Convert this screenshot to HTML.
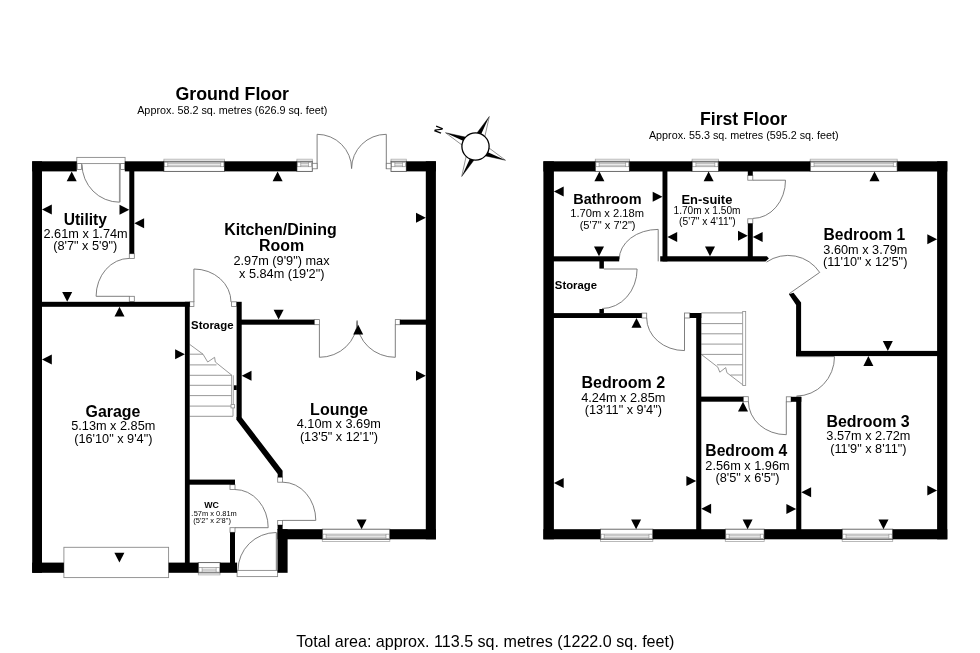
<!DOCTYPE html>
<html><head><meta charset="utf-8"><title>Floor plan</title>
<style>
html,body{margin:0;padding:0;background:#fff;}
body{width:980px;height:653px;overflow:hidden;}
svg{display:block;will-change:transform;font-family:"Liberation Sans",Arial,Helvetica,sans-serif;}
</style></head><body>
<svg width="980" height="653" viewBox="0 0 980 653">
<rect x="0" y="0" width="980" height="653" fill="#fff"/>
<defs><clipPath id="wcclip"><rect x="190.9" y="505" width="60" height="14"/></clipPath></defs>
<g fill="#000">
<text x="232.2" y="100.0" font-size="17.8" font-weight="700" text-anchor="middle">Ground Floor</text>
<text x="232.3" y="114.1" font-size="10.8" text-anchor="middle">Approx. 58.2 sq. metres (626.9 sq. feet)</text>
<text x="743.6" y="125.0" font-size="17.6" font-weight="700" text-anchor="middle">First Floor</text>
<text x="743.8" y="139.1" font-size="10.78" text-anchor="middle">Approx. 55.3 sq. metres (595.2 sq. feet)</text>
<text x="485.3" y="647.0" font-size="16.1" text-anchor="middle">Total area: approx. 113.5 sq. metres (1222.0 sq. feet)</text>
<text x="85.3" y="224.7" font-size="15.6" font-weight="700" text-anchor="middle">Utility</text>
<text x="85.6" y="238.0" font-size="12.72" text-anchor="middle">2.61m x 1.74m</text>
<text x="85.3" y="250.3" font-size="12.72" text-anchor="middle">(8'7&quot; x 5'9&quot;)</text>
<text x="280.5" y="235.1" font-size="15.95" font-weight="700" text-anchor="middle">Kitchen/Dining</text>
<text x="281.5" y="251.0" font-size="15.95" font-weight="700" text-anchor="middle">Room</text>
<text x="281.5" y="264.7" font-size="12.72" text-anchor="middle">2.97m (9'9&quot;) max</text>
<text x="281.7" y="277.6" font-size="12.72" text-anchor="middle">x 5.84m (19'2&quot;)</text>
<text x="212.3" y="329.3" font-size="11.4" font-weight="700" text-anchor="middle">Storage</text>
<text x="113.0" y="416.7" font-size="15.9" font-weight="700" text-anchor="middle">Garage</text>
<text x="113.3" y="430.0" font-size="12.72" text-anchor="middle">5.13m x 2.85m</text>
<text x="113.3" y="442.6" font-size="12.72" text-anchor="middle">(16'10&quot; x 9'4&quot;)</text>
<text x="339.0" y="414.9" font-size="16" font-weight="700" text-anchor="middle">Lounge</text>
<text x="338.8" y="428.2" font-size="12.72" text-anchor="middle">4.10m x 3.69m</text>
<text x="339.0" y="440.6" font-size="12.72" text-anchor="middle">(13'5&quot; x 12'1&quot;)</text>
<text x="211.5" y="507.8" font-size="8.8" font-weight="700" text-anchor="middle">WC</text>
<text x="212.1" y="515.7" font-size="7.46" text-anchor="middle" clip-path="url(#wcclip)">1.57m x 0.81m</text>
<text x="212.1" y="523.3" font-size="7.46" text-anchor="middle">(5'2&quot; x 2'8&quot;)</text>
<text x="607.4" y="204.3" font-size="14.45" font-weight="700" text-anchor="middle">Bathroom</text>
<text x="607.1" y="216.6" font-size="11.15" text-anchor="middle">1.70m x 2.18m</text>
<text x="607.6" y="229.0" font-size="11.1" text-anchor="middle">(5'7&quot; x 7'2&quot;)</text>
<text x="706.9" y="203.7" font-size="12.9" font-weight="700" text-anchor="middle">En-suite</text>
<text x="707.0" y="213.7" font-size="10.15" text-anchor="middle">1.70m x 1.50m</text>
<text x="707.4" y="224.5" font-size="10.25" text-anchor="middle">(5'7&quot; x 4'11&quot;)</text>
<text x="575.9" y="289.3" font-size="11.3" font-weight="700" text-anchor="middle">Storage</text>
<text x="864.4" y="240.4" font-size="15.65" font-weight="700" text-anchor="middle">Bedroom 1</text>
<text x="865.4" y="253.5" font-size="12.72" text-anchor="middle">3.60m x 3.79m</text>
<text x="865.2" y="266.3" font-size="12.72" text-anchor="middle">(11'10&quot; x 12'5&quot;)</text>
<text x="623.3" y="388.4" font-size="16" font-weight="700" text-anchor="middle">Bedroom 2</text>
<text x="623.3" y="401.6" font-size="12.72" text-anchor="middle">4.24m x 2.85m</text>
<text x="623.3" y="413.9" font-size="12.72" text-anchor="middle">(13'11&quot; x 9'4&quot;)</text>
<text x="868.0" y="426.5" font-size="15.95" font-weight="700" text-anchor="middle">Bedroom 3</text>
<text x="868.4" y="440.0" font-size="12.72" text-anchor="middle">3.57m x 2.72m</text>
<text x="868.4" y="452.7" font-size="12.72" text-anchor="middle">(11'9&quot; x 8'11&quot;)</text>
<text x="746.3" y="455.9" font-size="15.7" font-weight="700" text-anchor="middle">Bedroom 4</text>
<text x="747.5" y="469.8" font-size="12.75" text-anchor="middle">2.56m x 1.96m</text>
<text x="747.5" y="482.0" font-size="12.72" text-anchor="middle">(8'5&quot; x 6'5&quot;)</text>
</g>
<path d="M189.7 344.4L203 354.2L207.7 362L214.6 357.3L215.3 362L231.9 375.3" fill="none" stroke="#8c8c8c" stroke-width="0.9"/>
<path d="M189.7 354.2H203M189.7 364.9H216.5M189.7 375.3H232M189.7 385.3H231.5M189.7 395.6H231.5M189.7 406.1H231M189.7 416.3H233V407.9" fill="none" stroke="#8c8c8c" stroke-width="0.9"/>
<path d="M231.6 375.3V404.6M233.3 375.3V404.6" fill="none" stroke="#8c8c8c" stroke-width="0.8"/>
<rect x="231.0" y="404.6" width="3.6" height="3.3" fill="#fff" stroke="#8c8c8c" stroke-width="0.8"/>
<path d="M701.3 312.9H745.7M701.3 323.6H742.7M701.3 333.8H742.7M701.3 344.1H742.7M701.3 354.4H742.7M717 364.8H742.7M730.5 375H742.7" fill="none" stroke="#8c8c8c" stroke-width="0.9"/>
<path d="M701.3 354.4L717.8 367.1L719.8 372.2L725.7 367.6L726.9 372.7L743.7 385.5" fill="none" stroke="#8c8c8c" stroke-width="0.9"/>
<rect x="742.7" y="311.4" width="3.0" height="74.1" fill="#fff" stroke="#8c8c8c" stroke-width="0.8"/>
<rect x="76.8" y="157.4" width="48.3" height="6.2" fill="#fff" stroke="#8a8a8a" stroke-width="0.9"/>
<path d="M120 163.6V202.2M82 164.3A37.6 38 0 0 0 119.6 202.2" fill="none" stroke="#707070" stroke-width="0.9"/>
<path d="M119.4 163.6V202.2" fill="none" stroke="#707070" stroke-width="0.6"/>
<path d="M96.1 296.3H129.3M96.1 296.3A33.2 37.9 0 0 1 129.3 258.4" fill="none" stroke="#707070" stroke-width="0.9"/>
<path d="M193.9 302V269M193.9 269A37.1 33 0 0 1 231 302" fill="none" stroke="#707070" stroke-width="0.9"/>
<path d="M317.1 169V134.3A34.5 34.3 0 0 1 351.6 168.6M386.3 169V134.3A34.7 34.3 0 0 0 351.6 168.6" fill="none" stroke="#707070" stroke-width="0.9"/>
<path d="M319.4 324.7V357.3A37.7 36 0 0 0 357.1 321.3M395.3 324.7V357.3A38.2 36 0 0 1 357.1 321.3M357.1 320.2V326" fill="none" stroke="#707070" stroke-width="0.9"/>
<path d="M282.7 520.4H315.8M315.8 520.4A33.1 38.2 0 0 0 282.7 482.2" fill="none" stroke="#707070" stroke-width="0.9"/>
<path d="M234.9 527.7H268.2M268.2 527.7A33.3 38.2 0 0 0 234.9 489.5" fill="none" stroke="#707070" stroke-width="0.9"/>
<rect x="237.1" y="570.4" width="40.5" height="6.2" fill="#fff" stroke="#8a8a8a" stroke-width="0.9"/>
<path d="M276.3 570.4V532.5M276.3 532.5A38.3 37.9 0 0 0 238 570.4" fill="none" stroke="#707070" stroke-width="0.9"/>
<path d="M277.2 570.4V532.5" fill="none" stroke="#707070" stroke-width="0.6"/>
<rect x="63.9" y="547.3" width="104.7" height="30.3" fill="#fff" stroke="#8a8a8a" stroke-width="0.9"/>
<path d="M658.2 261.4V229.4M658.2 229.4A39 30 0 0 0 619.2 259.4" fill="none" stroke="#707070" stroke-width="0.9"/>
<path d="M603.9 269H637.1M637.1 269A35 39.5 0 0 1 602.1 308.5" fill="none" stroke="#707070" stroke-width="0.9"/>
<path d="M684.5 313.5V350.6M684.5 350.6A37.8 32.6 0 0 1 646.7 318" fill="none" stroke="#707070" stroke-width="0.9"/>
<path d="M752.9 180.2H785.5M785.5 180.2A32.6 38.2 0 0 1 752.9 218.4" fill="none" stroke="#707070" stroke-width="0.9"/>
<path d="M789 293.8L819.7 272.4A38 38 0 0 0 766.5 262.1" fill="none" stroke="#707070" stroke-width="0.9"/>
<path d="M796.2 356.6H834.5M834.5 356.6A38 39.4 0 0 1 796.5 396" fill="none" stroke="#707070" stroke-width="0.9"/>
<path d="M786.3 401.5V434.7M786.3 434.7A37.9 33.3 0 0 1 748.4 401.4" fill="none" stroke="#707070" stroke-width="0.9"/>
<rect x="163.9" y="159.2" width="60.6" height="2.1" fill="#fff" stroke="#a8a8a8" stroke-width="0.8"/>
<rect x="163.9" y="161.3" width="60.6" height="10.1" fill="#fff" stroke="#5a5a5a" stroke-width="0.9"/>
<rect x="164.5" y="162.2" width="59.4" height="4.6" fill="#fff" stroke="#606060" stroke-width="0.5"/>
<path d="M167.7 162.2V166.8M220.7 162.2V166.8M167.7 163.6H220.7M167.7 165.3H220.7" fill="none" stroke="#6a6a6a" stroke-width="0.45"/>
<rect x="296.9" y="159.2" width="15.4" height="2.1" fill="#fff" stroke="#a8a8a8" stroke-width="0.8"/>
<rect x="296.9" y="161.3" width="15.4" height="10.1" fill="#fff" stroke="#5a5a5a" stroke-width="0.9"/>
<rect x="297.5" y="162.2" width="14.2" height="4.6" fill="#fff" stroke="#606060" stroke-width="0.5"/>
<path d="M300.7 162.2V166.8M308.5 162.2V166.8M300.7 163.6H308.5M300.7 165.3H308.5" fill="none" stroke="#6a6a6a" stroke-width="0.45"/>
<rect x="391.0" y="159.2" width="15.3" height="2.1" fill="#fff" stroke="#a8a8a8" stroke-width="0.8"/>
<rect x="391.0" y="161.3" width="15.3" height="10.1" fill="#fff" stroke="#5a5a5a" stroke-width="0.9"/>
<rect x="391.6" y="162.2" width="14.1" height="4.6" fill="#fff" stroke="#606060" stroke-width="0.5"/>
<path d="M394.8 162.2V166.8M402.5 162.2V166.8M394.8 163.6H402.5M394.8 165.3H402.5" fill="none" stroke="#6a6a6a" stroke-width="0.45"/>
<rect x="322.3" y="539.3" width="67.5" height="2.1" fill="#fff" stroke="#a8a8a8" stroke-width="0.8"/>
<rect x="322.3" y="529.2" width="67.5" height="10.1" fill="#fff" stroke="#5a5a5a" stroke-width="0.9"/>
<rect x="322.9" y="534.1" width="66.3" height="4.5" fill="#fff" stroke="#606060" stroke-width="0.5"/>
<path d="M326.1 534.1V538.6M386.0 534.1V538.6M326.1 535.7H386.0M326.1 537.3H386.0" fill="none" stroke="#6a6a6a" stroke-width="0.45"/>
<rect x="198.3" y="572.8" width="21.7" height="2.1" fill="#fff" stroke="#a8a8a8" stroke-width="0.8"/>
<rect x="198.3" y="562.6" width="21.7" height="10.2" fill="#fff" stroke="#5a5a5a" stroke-width="0.9"/>
<rect x="198.9" y="567.6" width="20.5" height="4.5" fill="#fff" stroke="#606060" stroke-width="0.5"/>
<path d="M202.1 567.6V572.1M216.2 567.6V572.1M202.1 569.2H216.2M202.1 570.8H216.2" fill="none" stroke="#6a6a6a" stroke-width="0.45"/>
<rect x="595.3" y="159.2" width="34.1" height="2.1" fill="#fff" stroke="#a8a8a8" stroke-width="0.8"/>
<rect x="595.3" y="161.3" width="34.1" height="10.1" fill="#fff" stroke="#5a5a5a" stroke-width="0.9"/>
<rect x="595.9" y="162.2" width="32.9" height="4.6" fill="#fff" stroke="#606060" stroke-width="0.5"/>
<path d="M599.1 162.2V166.8M625.6 162.2V166.8M599.1 163.6H625.6M599.1 165.3H625.6" fill="none" stroke="#6a6a6a" stroke-width="0.45"/>
<rect x="692.1" y="159.2" width="26.5" height="2.1" fill="#fff" stroke="#a8a8a8" stroke-width="0.8"/>
<rect x="692.1" y="161.3" width="26.5" height="10.1" fill="#fff" stroke="#5a5a5a" stroke-width="0.9"/>
<rect x="692.7" y="162.2" width="25.3" height="4.6" fill="#fff" stroke="#606060" stroke-width="0.5"/>
<path d="M695.9 162.2V166.8M714.8 162.2V166.8M695.9 163.6H714.8M695.9 165.3H714.8" fill="none" stroke="#6a6a6a" stroke-width="0.45"/>
<rect x="810.2" y="159.2" width="87.0" height="2.1" fill="#fff" stroke="#a8a8a8" stroke-width="0.8"/>
<rect x="810.2" y="161.3" width="87.0" height="10.1" fill="#fff" stroke="#5a5a5a" stroke-width="0.9"/>
<rect x="810.8" y="162.2" width="85.8" height="4.6" fill="#fff" stroke="#606060" stroke-width="0.5"/>
<path d="M814.0 162.2V166.8M893.4 162.2V166.8M814.0 163.6H893.4M814.0 165.3H893.4" fill="none" stroke="#6a6a6a" stroke-width="0.45"/>
<rect x="600.4" y="539.3" width="52.4" height="2.1" fill="#fff" stroke="#a8a8a8" stroke-width="0.8"/>
<rect x="600.4" y="529.2" width="52.4" height="10.1" fill="#fff" stroke="#5a5a5a" stroke-width="0.9"/>
<rect x="601.0" y="534.1" width="51.2" height="4.5" fill="#fff" stroke="#606060" stroke-width="0.5"/>
<path d="M604.2 534.1V538.6M649.0 534.1V538.6M604.2 535.7H649.0M604.2 537.3H649.0" fill="none" stroke="#6a6a6a" stroke-width="0.45"/>
<rect x="725.3" y="539.3" width="38.9" height="2.1" fill="#fff" stroke="#a8a8a8" stroke-width="0.8"/>
<rect x="725.3" y="529.2" width="38.9" height="10.1" fill="#fff" stroke="#5a5a5a" stroke-width="0.9"/>
<rect x="725.9" y="534.1" width="37.7" height="4.5" fill="#fff" stroke="#606060" stroke-width="0.5"/>
<path d="M729.1 534.1V538.6M760.4 534.1V538.6M729.1 535.7H760.4M729.1 537.3H760.4" fill="none" stroke="#6a6a6a" stroke-width="0.45"/>
<rect x="842.2" y="539.3" width="50.5" height="2.1" fill="#fff" stroke="#a8a8a8" stroke-width="0.8"/>
<rect x="842.2" y="529.2" width="50.5" height="10.1" fill="#fff" stroke="#5a5a5a" stroke-width="0.9"/>
<rect x="842.8" y="534.1" width="49.3" height="4.5" fill="#fff" stroke="#606060" stroke-width="0.5"/>
<path d="M846.0 534.1V538.6M888.9 534.1V538.6M846.0 535.7H888.9M846.0 537.3H888.9" fill="none" stroke="#6a6a6a" stroke-width="0.45"/>
<rect x="77.2" y="163.6" width="4.2" height="5.9" fill="#fff" stroke="#777" stroke-width="0.8"/>
<rect x="120.6" y="163.6" width="4.2" height="5.9" fill="#fff" stroke="#777" stroke-width="0.8"/>
<rect x="129.3" y="253.7" width="5.0" height="4.7" fill="#fff" stroke="#777" stroke-width="0.8"/>
<rect x="129.3" y="296.3" width="5.0" height="5.3" fill="#fff" stroke="#777" stroke-width="0.8"/>
<rect x="189.7" y="301.8" width="4.2" height="4.6" fill="#fff" stroke="#777" stroke-width="0.8"/>
<rect x="231.6" y="301.8" width="4.9" height="4.6" fill="#fff" stroke="#777" stroke-width="0.8"/>
<rect x="314.3" y="319.6" width="5.1" height="5.1" fill="#fff" stroke="#777" stroke-width="0.8"/>
<rect x="395.3" y="319.6" width="4.7" height="5.1" fill="#fff" stroke="#777" stroke-width="0.8"/>
<rect x="312.3" y="163.3" width="4.8" height="5.5" fill="#fff" stroke="#777" stroke-width="0.8"/>
<rect x="386.3" y="163.3" width="4.7" height="5.5" fill="#fff" stroke="#777" stroke-width="0.8"/>
<rect x="277.7" y="477.2" width="4.9" height="5.0" fill="#fff" stroke="#777" stroke-width="0.8"/>
<rect x="277.7" y="520.5" width="4.9" height="4.5" fill="#fff" stroke="#777" stroke-width="0.8"/>
<rect x="230.0" y="484.7" width="5.0" height="4.7" fill="#fff" stroke="#777" stroke-width="0.8"/>
<rect x="230.0" y="527.7" width="5.0" height="4.6" fill="#fff" stroke="#777" stroke-width="0.8"/>
<rect x="641.8" y="313.1" width="4.9" height="4.9" fill="#fff" stroke="#777" stroke-width="0.8"/>
<rect x="684.5" y="313.0" width="5.3" height="5.0" fill="#fff" stroke="#777" stroke-width="0.8"/>
<rect x="747.8" y="175.5" width="5.0" height="4.7" fill="#fff" stroke="#777" stroke-width="0.8"/>
<rect x="747.8" y="218.8" width="5.0" height="4.7" fill="#fff" stroke="#777" stroke-width="0.8"/>
<rect x="743.3" y="396.7" width="5.0" height="5.0" fill="#fff" stroke="#777" stroke-width="0.8"/>
<rect x="786.3" y="396.8" width="4.7" height="5.0" fill="#fff" stroke="#777" stroke-width="0.8"/>
<g fill="#000">
<rect x="32.2" y="161.3" width="9.8" height="411.5" fill="#000"/>
<rect x="32.2" y="161.3" width="44.6" height="10.1" fill="#000"/>
<rect x="124.8" y="161.3" width="39.1" height="10.1" fill="#000"/>
<rect x="224.5" y="161.3" width="72.4" height="10.1" fill="#000"/>
<rect x="406.3" y="161.3" width="29.6" height="10.1" fill="#000"/>
<rect x="425.8" y="161.3" width="10.1" height="378.0" fill="#000"/>
<rect x="277.6" y="529.2" width="44.7" height="10.1" fill="#000"/>
<rect x="389.8" y="529.2" width="46.1" height="10.1" fill="#000"/>
<rect x="277.6" y="525.0" width="5.0" height="5.0" fill="#000"/>
<rect x="277.6" y="529.2" width="10.0" height="43.6" fill="#000"/>
<rect x="32.2" y="562.6" width="31.7" height="10.2" fill="#000"/>
<rect x="168.6" y="562.6" width="29.7" height="10.2" fill="#000"/>
<rect x="220.0" y="562.6" width="17.1" height="10.2" fill="#000"/>
<rect x="184.9" y="301.8" width="4.8" height="261.2" fill="#000"/>
<rect x="41.0" y="301.8" width="148.7" height="5.0" fill="#000"/>
<rect x="129.3" y="171.0" width="5.0" height="82.7" fill="#000"/>
<rect x="236.6" y="301.8" width="5.1" height="118.2" fill="#000"/>
<polygon points="236.6,420.0 236.6,417.0 241.7,417.4 282.6,470.7 282.6,477.2 277.7,477.2 277.7,474.0" fill="#000"/>
<rect x="189.0" y="479.6" width="46.0" height="5.1" fill="#000"/>
<rect x="230.0" y="532.3" width="5.0" height="30.7" fill="#000"/>
<rect x="241.0" y="319.6" width="73.3" height="5.1" fill="#000"/>
<rect x="400.0" y="319.6" width="26.0" height="5.1" fill="#000"/>
<rect x="233.9" y="385.3" width="2.9" height="4.7" fill="#000"/>
<rect x="543.4" y="161.3" width="10.5" height="378.0" fill="#000"/>
<rect x="543.4" y="161.3" width="51.9" height="10.2" fill="#000"/>
<rect x="629.4" y="161.3" width="62.7" height="10.2" fill="#000"/>
<rect x="718.6" y="161.3" width="91.6" height="10.2" fill="#000"/>
<rect x="897.2" y="161.3" width="50.1" height="10.2" fill="#000"/>
<rect x="937.1" y="161.3" width="10.2" height="378.0" fill="#000"/>
<rect x="543.4" y="529.2" width="57.0" height="10.1" fill="#000"/>
<rect x="652.8" y="529.2" width="72.5" height="10.1" fill="#000"/>
<rect x="764.2" y="529.2" width="78.0" height="10.1" fill="#000"/>
<rect x="892.7" y="529.2" width="54.6" height="10.1" fill="#000"/>
<rect x="662.5" y="171.0" width="4.9" height="90.4" fill="#000"/>
<rect x="553.0" y="256.3" width="66.2" height="5.1" fill="#000"/>
<rect x="599.4" y="261.0" width="4.5" height="7.6" fill="#000"/>
<rect x="599.4" y="309.0" width="4.5" height="4.5" fill="#000"/>
<rect x="553.0" y="313.1" width="88.8" height="4.9" fill="#000"/>
<polygon points="660.2,256.3 766.9,256.3 768.9,258.6 765.5,261.4 660.2,261.4" fill="#000"/>
<rect x="747.8" y="171.0" width="5.0" height="4.5" fill="#000"/>
<rect x="747.8" y="223.5" width="5.0" height="33.5" fill="#000"/>
<rect x="696.2" y="313.0" width="5.1" height="217.0" fill="#000"/>
<rect x="689.8" y="313.0" width="11.5" height="5.0" fill="#000"/>
<rect x="700.5" y="396.6" width="42.8" height="5.1" fill="#000"/>
<rect x="796.2" y="396.8" width="5.1" height="133.2" fill="#000"/>
<rect x="791.0" y="396.8" width="10.3" height="5.0" fill="#000"/>
<polygon points="788.9,294.3 793.5,292.8 801.1,302.5 801.1,356.1 796.1,356.1 796.1,305.0" fill="#000"/>
<rect x="796.1" y="350.9" width="141.9" height="5.2" fill="#000"/>
</g>
<g fill="#000">
<polygon points="71.7,171.4 66.7,181.2 76.7,181.2" fill="#000"/>
<polygon points="42.0,209.5 51.8,204.5 51.8,214.5" fill="#000"/>
<polygon points="129.3,209.8 119.5,204.8 119.5,214.8" fill="#000"/>
<polygon points="67.2,301.8 62.2,292.0 72.2,292.0" fill="#000"/>
<polygon points="277.6,171.4 272.6,181.2 282.6,181.2" fill="#000"/>
<polygon points="425.8,217.8 416.0,212.8 416.0,222.8" fill="#000"/>
<polygon points="134.3,223.3 144.1,218.3 144.1,228.3" fill="#000"/>
<polygon points="278.6,319.6 273.6,309.8 283.6,309.8" fill="#000"/>
<polygon points="119.5,306.8 114.5,316.6 124.5,316.6" fill="#000"/>
<polygon points="42.0,359.4 51.8,354.4 51.8,364.4" fill="#000"/>
<polygon points="184.9,354.3 175.1,349.3 175.1,359.3" fill="#000"/>
<polygon points="119.4,562.6 114.4,552.8 124.4,552.8" fill="#000"/>
<polygon points="241.7,375.7 251.5,370.7 251.5,380.7" fill="#000"/>
<polygon points="358.2,324.7 353.2,334.5 363.2,334.5" fill="#000"/>
<polygon points="425.8,375.7 416.0,370.7 416.0,380.7" fill="#000"/>
<polygon points="361.6,529.2 356.6,519.4 366.6,519.4" fill="#000"/>
<polygon points="599.4,171.5 594.4,181.3 604.4,181.3" fill="#000"/>
<polygon points="553.9,191.5 563.7,186.5 563.7,196.5" fill="#000"/>
<polygon points="662.5,196.8 652.7,191.8 652.7,201.8" fill="#000"/>
<polygon points="599.0,256.3 594.0,246.5 604.0,246.5" fill="#000"/>
<polygon points="708.6,171.5 703.6,181.3 713.6,181.3" fill="#000"/>
<polygon points="667.4,236.9 677.2,231.9 677.2,241.9" fill="#000"/>
<polygon points="747.8,235.7 738.0,230.7 738.0,240.7" fill="#000"/>
<polygon points="710.0,256.3 705.0,246.5 715.0,246.5" fill="#000"/>
<polygon points="752.8,237.1 762.6,232.1 762.6,242.1" fill="#000"/>
<polygon points="874.5,171.5 869.5,181.3 879.5,181.3" fill="#000"/>
<polygon points="937.1,239.2 927.3,234.2 927.3,244.2" fill="#000"/>
<polygon points="887.8,350.9 882.8,341.1 892.8,341.1" fill="#000"/>
<polygon points="636.5,318.0 631.5,327.8 641.5,327.8" fill="#000"/>
<polygon points="553.9,482.9 563.7,477.9 563.7,487.9" fill="#000"/>
<polygon points="696.2,480.9 686.4,475.9 686.4,485.9" fill="#000"/>
<polygon points="636.1,529.2 631.1,519.4 641.1,519.4" fill="#000"/>
<polygon points="868.4,356.1 863.4,365.9 873.4,365.9" fill="#000"/>
<polygon points="801.3,492.2 811.1,487.2 811.1,497.2" fill="#000"/>
<polygon points="937.1,490.6 927.3,485.6 927.3,495.6" fill="#000"/>
<polygon points="883.5,529.2 878.5,519.4 888.5,519.4" fill="#000"/>
<polygon points="743.0,401.7 738.0,411.5 748.0,411.5" fill="#000"/>
<polygon points="701.3,508.7 711.1,503.7 711.1,513.7" fill="#000"/>
<polygon points="796.2,509.0 786.4,504.0 786.4,514.0" fill="#000"/>
<polygon points="747.6,529.2 742.6,519.4 752.6,519.4" fill="#000"/>
</g>
<polygon points="445.5,132.7 465.4,137.1 461.8,144.9" fill="#fff" stroke="#222" stroke-width="0.5"/>
<polygon points="445.5,132.7 465.4,137.1 463.6,141.0" fill="#000"/>
<polygon points="489.3,116.5 484.9,136.4 477.1,132.8" fill="#fff" stroke="#222" stroke-width="0.5"/>
<polygon points="489.3,116.5 477.1,132.8 481.0,134.6" fill="#000"/>
<polygon points="505.5,160.3 485.6,155.9 489.2,148.1" fill="#fff" stroke="#222" stroke-width="0.5"/>
<polygon points="505.5,160.3 485.6,155.9 487.4,152.0" fill="#000"/>
<polygon points="461.7,176.5 466.1,156.6 473.9,160.2" fill="#fff" stroke="#222" stroke-width="0.5"/>
<polygon points="461.7,176.5 473.9,160.2 470.0,158.4" fill="#000"/>
<circle cx="475.5" cy="146.5" r="13.6" fill="#fff" stroke="#000" stroke-width="1.3"/>
<text x="438.6" y="129.4" font-size="10.5" font-weight="700" text-anchor="middle" transform="rotate(-68 438.6 129.6)" dy="3.7">N</text>
</svg>
</body></html>
